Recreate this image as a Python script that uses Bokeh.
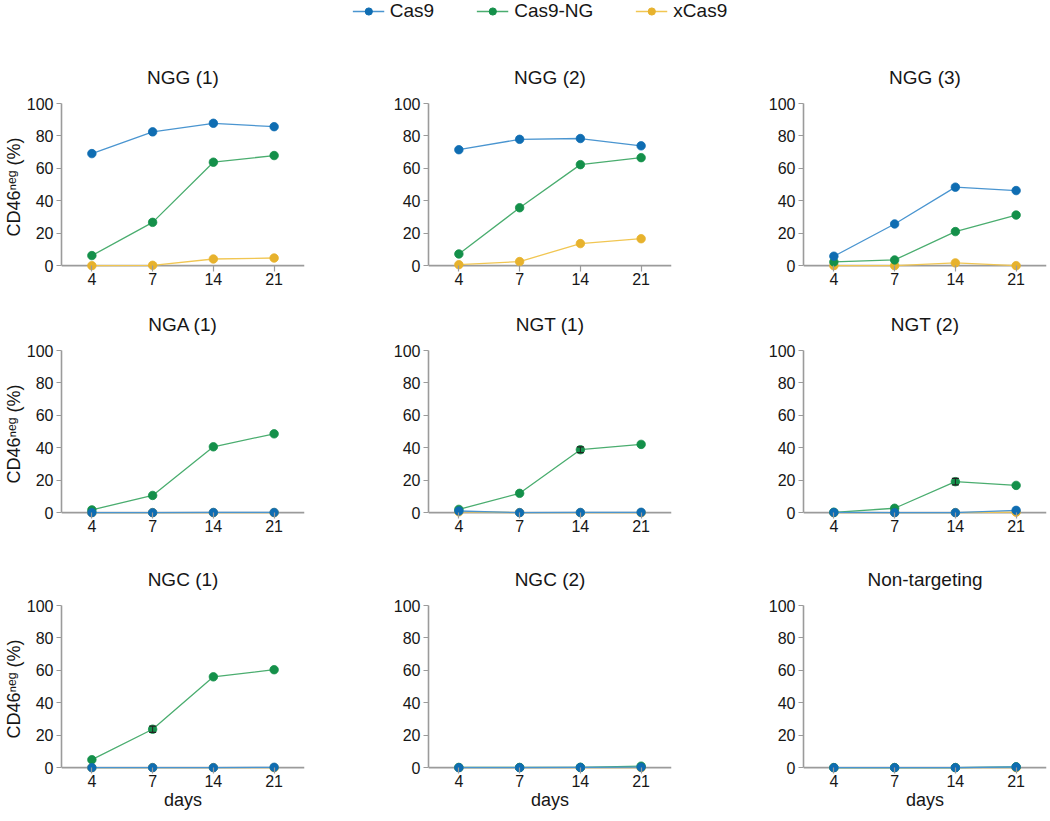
from bokeh.plotting import figure
from bokeh.models import (Range1d, FactorRange, FixedTicker, Legend, LegendItem,
                          ColumnDataSource, Whisker, TeeHead, Span)
from bokeh.layouts import gridplot, column
from bokeh.embed import file_html
from bokeh.resources import INLINE

# ---------------- data ----------------
days = ["4", "7", "14", "21"]
panel_titles = ["NGG (1)", "NGG (2)", "NGG (3)",
                "NGA (1)", "NGT (1)", "NGT (2)",
                "NGC (1)", "NGC (2)", "Non-targeting"]
series_names = ["Cas9", "Cas9-NG", "xCas9"]
x_label = "days"
y_label = "CD46\u207f\u1d49\u1d4d (%)"

cas9 = [
    [69.1, 82.5, 87.8, 85.7],
    [71.5, 77.9, 78.4, 73.9],
    [5.8, 25.7, 48.4, 46.3],
    [0.0, 0.0, 0.1, 0.1],
    [1.0, 0.0, 0.1, 0.2],
    [0.1, 0.0, 0.0, 1.4],
    [0.0, 0.0, 0.0, 0.2],
    [0.0, 0.0, 0.1, 0.3],
    [0.0, 0.0, 0.0, 0.4],
]
cas9_ng = [
    [6.2, 26.7, 63.8, 67.9],
    [7.2, 35.7, 62.3, 66.6],
    [2.3, 3.5, 21.0, 31.2],
    [1.7, 10.6, 40.6, 48.6],
    [2.0, 11.9, 38.8, 42.1],
    [0.2, 2.7, 19.1, 16.8],
    [4.9, 23.7, 56.0, 60.4],
    [0.1, 0.1, 0.2, 0.9],
    [0.0, 0.0, 0.0, 0.5],
]
cas9_ng_err = [
    [0.0, 0.0, 0.0, 0.0],
    [0.0, 0.0, 0.0, 0.0],
    [0.0, 0.0, 0.0, 0.0],
    [0.0, 0.0, 0.0, 0.0],
    [0.0, 0.0, 1.8, 0.0],
    [0.0, 0.0, 2.0, 0.0],
    [0.0, 1.9, 0.0, 0.0],
    [0.0, 0.0, 0.0, 0.0],
    [0.0, 0.0, 0.0, 0.0],
]
xcas9 = [
    [0.0, 0.2, 4.1, 4.7],
    [0.6, 2.5, 13.6, 16.6],
    [0.0, 0.0, 1.7, 0.0],
    [0.0, 0.0, 0.0, 0.0],
    [0.5, 0.0, 0.0, 0.0],
    [0.0, 0.0, 0.0, 0.3],
    [0.0, 0.0, 0.0, 0.0],
    [0.0, 0.0, 0.0, 0.0],
    [0.0, 0.0, 0.0, 0.0],
]
y_ticks = [0, 20, 40, 60, 80, 100]

# ---------------- style ----------------
FONT = "Liberation Sans"
marker_colors = {"Cas9": "#0f6db2", "Cas9-NG": "#14904a", "xCas9": "#e7b22d"}
line_colors = {"Cas9": "#4a95d0", "Cas9-NG": "#4aad6f", "xCas9": "#f1c652"}
AXIS_COLOR = "#9b9b9b"
TEXT_COLOR = "#161616"

Y_LO, Y_HI = -3, 100
FRAME_W, FRAME_H = 243, 167
PX = FRAME_H / (Y_HI - Y_LO)          # pixels per y unit
lefts = [55, 51, 55]
rights = [73, 77, 2]
tops = [63, 56, 56]
bottoms = [24, 32, 40]


def make_panel(i):
    r, c = divmod(i, 3)
    p = figure(x_range=FactorRange(factors=days, range_padding=0),
               y_range=Range1d(Y_LO, Y_HI),
               frame_width=FRAME_W, frame_height=FRAME_H,
               min_border_left=lefts[c], min_border_right=rights[c],
               min_border_top=tops[r], min_border_bottom=bottoms[r],
               toolbar_location=None, output_backend="svg",
               outline_line_color=None, background_fill_color="white",
               border_fill_color="white", title=panel_titles[i])
    p.grid.visible = False

    # title
    p.title.align = "center"
    p.title.standoff = 31
    p.title.text_font = FONT
    p.title.text_font_size = "19px"
    p.title.text_font_style = "normal"
    p.title.text_color = TEXT_COLOR

    # axes
    p.yaxis.bounds = (0, 100)
    p.yaxis.ticker = FixedTicker(ticks=y_ticks)
    for ax in (p.xaxis, p.yaxis):
        ax.axis_line_color = AXIS_COLOR
        ax.axis_line_width = 1.6
        ax.major_tick_line_color = AXIS_COLOR
        ax.major_tick_line_width = 1.2
        ax.minor_tick_line_color = None
        ax.major_label_text_font = FONT
        ax.major_label_text_font_size = "16px"
        ax.major_label_text_color = TEXT_COLOR
        ax.axis_label_text_font = FONT
        ax.axis_label_text_font_size = "18px"
        ax.axis_label_text_font_style = "normal"
        ax.axis_label_text_color = TEXT_COLOR
        ax.axis_label_standoff = 0
    p.yaxis.major_tick_in = 0
    p.yaxis.major_tick_out = 5
    p.yaxis.major_label_standoff = 3
    # x axis line is drawn at y = 0 (below the glyphs); ticks reach down from it
    p.xaxis.axis_line_color = None
    p.xaxis.major_tick_in = round(-Y_LO * PX)
    p.xaxis.major_tick_out = 1
    p.xaxis.major_label_standoff = 1
    p.add_layout(Span(location=0, dimension="width", line_color=AXIS_COLOR,
                      line_width=1.6, level="underlay"))
    if c == 0:
        p.yaxis.axis_label = y_label
    if r == 2:
        p.xaxis.axis_label = x_label

    # series (xCas9 first, Cas9 on top)
    data = {"Cas9": cas9[i], "Cas9-NG": cas9_ng[i], "xCas9": xcas9[i]}
    for name in ["xCas9", "Cas9-NG", "Cas9"]:
        src = ColumnDataSource(dict(x=days, y=data[name]))
        p.line("x", "y", source=src, line_color=line_colors[name], line_width=1.3)
        p.scatter("x", "y", source=src, size=8.5, fill_color=marker_colors[name],
                  line_color=marker_colors[name], line_width=0.8)

    # error bars (Cas9-NG)
    ex, lo, hi = [], [], []
    for d, v, e in zip(days, cas9_ng[i], cas9_ng_err[i]):
        if e > 0:
            ex.append(d); lo.append(v - e); hi.append(v + e)
    if ex:
        esrc = ColumnDataSource(dict(x=ex, lo=lo, hi=hi))
        p.add_layout(Whisker(base="x", lower="lo", upper="hi", source=esrc,
                             level="annotation", line_color="#222222", line_width=1,
                             upper_head=TeeHead(size=7, line_color="#222222", line_width=1.2),
                             lower_head=TeeHead(size=7, line_color="#222222", line_width=1.2)))
    return p


panels = [make_panel(i) for i in range(9)]
grid = gridplot([panels[0:3], panels[3:6], panels[6:9]], toolbar_location=None)

# ---------------- legend ----------------
LEG_H = 40
leg = figure(width=1042, height=LEG_H, x_range=Range1d(0, 1), y_range=Range1d(0, 1),
             x_axis_location=None, y_axis_location=None, toolbar_location=None,
             output_backend="svg", min_border=0, min_border_left=37,
             outline_line_color=None)
leg.grid.visible = False
items = []
for name in series_names:
    src = ColumnDataSource(dict(x=[-5, -4], y=[-5, -5]))
    rl = leg.line("x", "y", source=src, line_color=line_colors[name], line_width=1.5)
    rs = leg.scatter("x", "y", source=src, size=10, fill_color=marker_colors[name],
                     line_color=marker_colors[name])
    items.append(LegendItem(label=name, renderers=[rl, rs]))
legend = Legend(items=items, orientation="horizontal", location="top_center",
                padding=0, margin=0, spacing=42, border_line_color=None,
                background_fill_alpha=0, glyph_width=32, glyph_height=18,
                label_height=18, label_standoff=6, label_text_font=FONT,
                label_text_font_size="19px", label_text_color=TEXT_COLOR,
                label_text_baseline="middle")
leg.add_layout(legend)

layout = column(leg, grid)
open("out.html", "w").write(file_html(layout, INLINE))
